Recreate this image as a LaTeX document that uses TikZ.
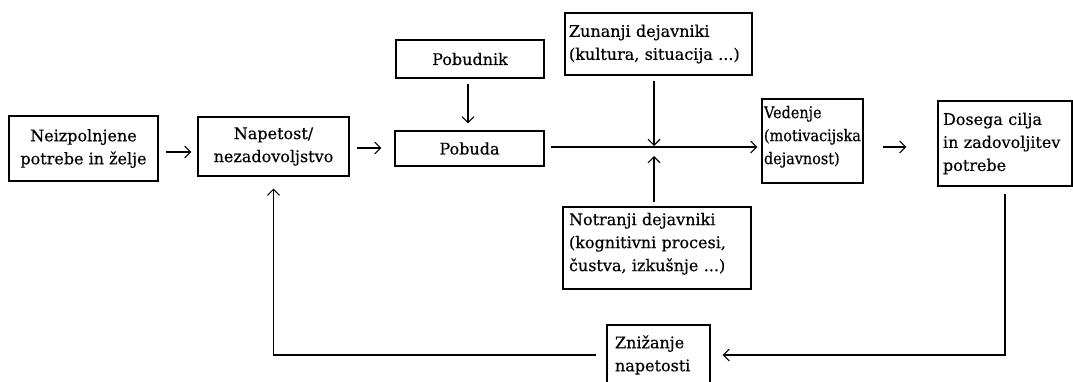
\documentclass[tikz,border=0pt]{standalone}
\usepackage{fontspec}
\setmainfont[FakeBold=0.4]{DejaVu Serif}
\newfontfamily\narrowserif[FakeStretch=0.9,FakeBold=0.4]{DejaVu Serif}
\usetikzlibrary{arrows.meta,calc}
\hyphenpenalty=10000
\exhyphenpenalty=10000
\begin{document}
\begin{tikzpicture}[x=1pt,y=-1pt,
  box/.style={draw,line width=1.1pt,rectangle,inner sep=0pt,font=\fontsize{16}{23}\selectfont},
  cbox/.style={box,align=center},
  lbox/.style={box,align=left},
  conn/.style={line width=1.1pt,-{Straight Barb[length=6pt,width=12pt]}},
  plain/.style={line width=1.1pt}]
\path[use as bounding box, clip] (0,0) rectangle (1073,381);
\fill[white] (0,0) rectangle (1073,381);

\node[cbox, minimum width=149pt, minimum height=65pt] (nei) at (83.5,148.5) {Neizpolnjene\\potrebe in želje};
\node[cbox, minimum width=151pt, minimum height=59pt] (nap) at (273.5,146.5) {Napetost/\\nezadovoljstvo};
\node[cbox, minimum width=148pt, minimum height=38pt] (pbk) at (470,59) {Pobudnik};
\node[cbox, minimum width=149pt, minimum height=35pt] (pob) at (469.5,148.5) {Pobuda};
\node[lbox, text width=179pt, inner xsep=4pt, minimum height=62pt] (zun) at (658.5,44) {Zunanji dejavniki\\(kultura, situacija ...)};
\node[lbox, text width=97pt, inner xsep=2pt, minimum height=84pt, text depth=58pt, font=\fontsize{16}{23}\narrowserif] (ved) at (812.5,141) {Vedenje\\(motivacijska\\dejavnost)};
\node[lbox, text width=124pt, inner xsep=5pt, minimum height=85pt] (dos) at (1005,143.5) {Dosega cilja\\in zadovoljitev\\potrebe};
\node[lbox, text width=176pt, inner xsep=6pt, minimum height=82pt, text depth=58pt] (not) at (657,248) {Notranji dejavniki\\(kognitivni procesi,\\čustva, izkušnje ...)};
\node[lbox, text width=87pt, inner xsep=8pt, minimum height=60pt] (zni) at (658.5,355) {Znižanje\\napetosti};

\coordinate (a1) at ([yshift=-3.5pt]nei.east);
\coordinate (a2) at ([yshift=-1.5pt]nap.east);
\coordinate (a3) at ([yshift=-6pt]ved.east);
\coordinate (a4) at ([yshift=1.5pt]pob.east);
\coordinate (cross) at (654,147);

\draw[conn, shorten <=7pt, shorten >=6pt] (a1) -- (a1 -| nap.west);
\draw[conn, shorten <=7pt, shorten >=13pt] (a2) -- (a2 -| pob.west);
\draw[conn, shorten <=19pt, shorten >=31pt] (a3) -- (a3 -| dos.west);
\draw[conn, shorten <=5pt, shorten >=7pt] ([xshift=-2pt]pbk.south) -- ([xshift=-2pt]pbk.south |- pob.north);
\draw[conn, shorten <=6pt, shorten >=4pt] (a4) -- (a4 -| ved.west);
\draw[conn, shorten <=5pt, shorten >=1pt] (zun.south -| cross) -- (cross);
\draw[conn, shorten <=4pt, shorten >=9pt] (not.north -| cross) -- (cross);
\draw[conn, shorten <=7pt, shorten >=12pt] (dos.south) |- (zni.east);
\draw[conn, shorten <=10pt, shorten >=12pt] (zni.west) -| (nap.south);
\end{tikzpicture}
\end{document}
